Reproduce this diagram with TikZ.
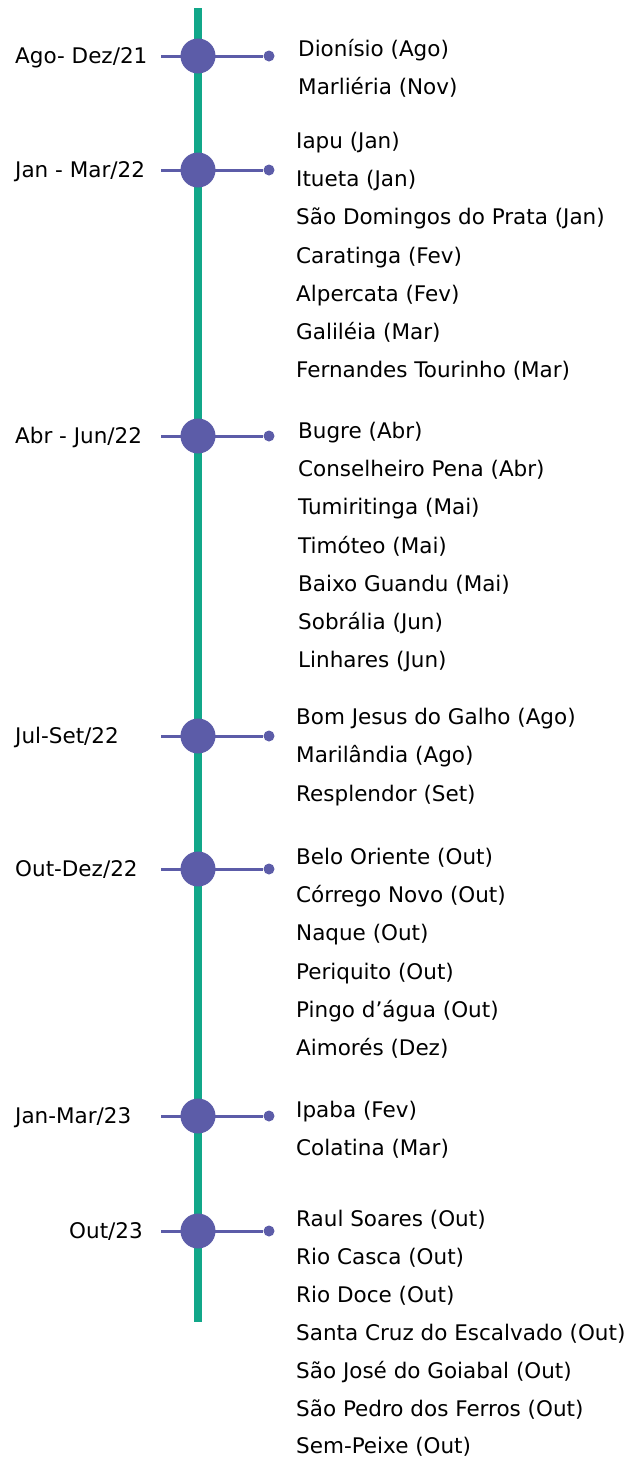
\documentclass[tikz,border=0pt]{standalone}
\usepackage{fontspec}
\setmainfont{DejaVu Sans}
\usetikzlibrary{positioning}
\definecolor{verde}{RGB}{17,167,137}
\definecolor{roxo}{RGB}{92,92,168}

\begin{document}
\begin{tikzpicture}[x=1pt,y=-1pt,
    texto/.style={anchor=base west, inner sep=0pt, font=\fontsize{21.5}{26}\selectfont},
    marco/.style={circle, fill=roxo, minimum size=35pt, inner sep=0pt},
    ponto/.style={circle, fill=roxo, minimum size=11pt, inner sep=0pt},
    haste/.style={roxo, line width=3pt}]
            \useasboundingbox (0,0) rectangle (630,1460);

            % linha do tempo
            \coordinate (topo) at (198,8);
            \coordinate (fim) at (198,1322);
            \draw[verde, line width=8pt] (topo) -- (fim);

            % periodos
            \node[texto] (L1) at (15,63.5) {Ago- Dez/21};
            \node[texto] (L2) at (15,177.5) {Jan - Mar/22};
            \node[texto] (L3) at (15,443.5) {Abr - Jun/22};
            \node[texto] (L4) at (15,743.5) {Jul-Set/22};
            \node[texto] (L5) at (15,876.5) {Out-Dez/22};
            \node[texto] (L6) at (15,1123.5) {Jan-Mar/23};
            \node[texto] (L7) at (69,1238.5) {Out/23};

            % hastes e marcos
            \foreach \i/\y in {1/56, 2/170, 3/436, 4/736, 5/869, 6/1116, 7/1231} {
                \coordinate (S\i) at (161,\y);
                \node[ponto] (P\i) at (269,\y) {};
                \draw[haste] (S\i) -- (P\i);
                \node[marco] (M\i) at (198,\y) {};
            }

            % municipios
            \foreach \c [count=\i from 0] in {Dionísio (Ago), Marliéria (Nov)}
                \node[texto] (C1-\i) at (298,{56.5+38.4*\i}) {\c};
            \foreach \c [count=\i from 0] in {Iapu (Jan), Itueta (Jan), São Domingos do Prata (Jan),
                Caratinga (Fev), Alpercata (Fev), Galiléia (Mar), Fernandes Tourinho (Mar)}
                \node[texto] (C2-\i) at (296,{148.5+38.2*\i}) {\c};
            \foreach \c [count=\i from 0] in {Bugre (Abr), Conselheiro Pena (Abr), Tumiritinga (Mai),
                Timóteo (Mai), Baixo Guandu (Mai), Sobrália (Jun), Linhares (Jun)}
                \node[texto] (C3-\i) at (298,{438.5+38.2*\i}) {\c};
            \foreach \c [count=\i from 0] in {Bom Jesus do Galho (Ago), Marilândia (Ago), Resplendor (Set)}
                \node[texto] (C4-\i) at (296,{724.5+38.4*\i}) {\c};
            \foreach \c [count=\i from 0] in {Belo Oriente (Out), Córrego Novo (Out), Naque (Out),
                Periquito (Out), Pingo d’água (Out), Aimorés (Dez)}
                \node[texto] (C5-\i) at (296,{864.5+38.2*\i}) {\c};
            \foreach \c [count=\i from 0] in {Ipaba (Fev), Colatina (Mar)}
                \node[texto] (C6-\i) at (296,{1117.5+38.4*\i}) {\c};
            \foreach \c [count=\i from 0] in {Raul Soares (Out), Rio Casca (Out), Rio Doce (Out),
                Santa Cruz do Escalvado (Out), São José do Goiabal (Out), São Pedro dos Ferros (Out), Sem-Peixe (Out)}
                \node[texto] (C7-\i) at (296,{1226.5+37.9*\i}) {\c};
\end{tikzpicture}
\end{document}
